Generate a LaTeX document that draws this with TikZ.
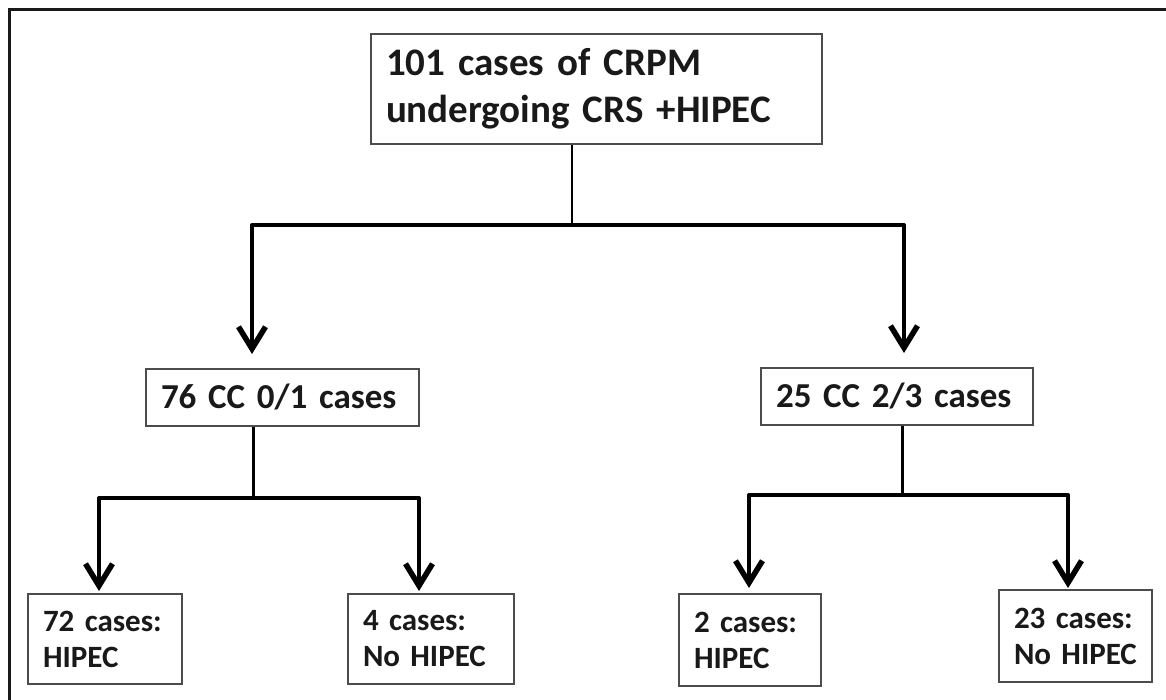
\documentclass[tikz,border=0pt]{standalone}
\usepackage{fontspec}
\setmainfont{Carlito}
\usetikzlibrary{arrows.meta}
\tikzset{
  casebox/.style={draw=black!70, line width=2pt, anchor=north west, align=left,
    inner xsep=15pt, inner ysep=0pt, font=\bfseries, text=black!90},
  bar/.style={line width=4pt, line cap=round},
  flow/.style={line width=4pt, -{Straight Barb[length=22pt,width=27pt,line width=5.5pt]}},
}
\begin{document}
\begin{tikzpicture}[x=1pt,y=-1pt]
   \useasboundingbox (0,0) rectangle (1166,700);
   \draw[line width=3pt, black!90] (9,10) rectangle (1180,720);
   % boxes
   \node[casebox, text width=421pt, minimum height=110pt, font=\bfseries\fontsize{39}{47}\selectfont] (top) at (370,33) {101 cases of CRPM\\undergoing CRS +HIPEC};
   \node[casebox, text width=243pt, minimum height=57pt, font=\bfseries\fontsize{35}{42}\selectfont] (ccl) at (145,368) {76 CC 0/1 cases};
   \node[casebox, text width=242pt, minimum height=57pt, font=\bfseries\fontsize{35}{42}\selectfont] (ccr) at (760,367) {25 CC 2/3 cases};
   \node[casebox, text width=124pt, minimum height=90pt, font=\bfseries\fontsize{31}{36}\selectfont] (la) at (27,593) {72 cases:\\HIPEC};
   \node[casebox, text width=136pt, minimum height=90pt, font=\bfseries\fontsize{31}{36}\selectfont] (lb) at (347,593) {4 cases:\\No HIPEC};
   \node[casebox, text width=112pt, minimum height=92pt, font=\bfseries\fontsize{31}{36}\selectfont] (ra) at (678,593) {2 cases:\\HIPEC};
   \node[casebox, text width=123pt, minimum height=92pt, font=\bfseries\fontsize{31}{36}\selectfont] (rb) at (998,589) {23 cases:\\No HIPEC};
   % first split
   \coordinate (s0) at (572,225);
   \coordinate (s0l) at (252,225);
   \coordinate (s0r) at (904,225);
   \draw[line width=2.5pt] (top.south -| s0) -- (s0);
   \draw[bar] (s0l) -- (s0r);
   \draw[flow, shorten >=14pt] (s0l) -- (s0l |- ccl.north);
   \draw[flow, shorten >=14pt] (s0r) -- (s0r |- ccr.north);
   % left split
   \coordinate (s1) at (253,498);
   \coordinate (s1l) at (99,498);
   \coordinate (s1r) at (419,498);
   \draw[line width=3pt] (ccl.south -| s1) -- (s1);
   \draw[bar] (s1l) -- (s1r);
   \draw[flow, shorten >=2pt] (s1l) -- (s1l |- la.north);
   \draw[flow, shorten >=2pt] (s1r) -- (s1r |- lb.north);
   % right split
   \coordinate (s2) at (902,495);
   \coordinate (s2l) at (749,495);
   \coordinate (s2r) at (1068,495);
   \draw[line width=3pt] (ccr.south -| s2) -- (s2);
   \draw[bar] (s2l) -- (s2r);
   \draw[flow, shorten >=5pt] (s2l) -- (s2l |- ra.north);
   \draw[flow, shorten >=1pt] (s2r) -- (s2r |- rb.north);
 \end{tikzpicture}
\end{document}
